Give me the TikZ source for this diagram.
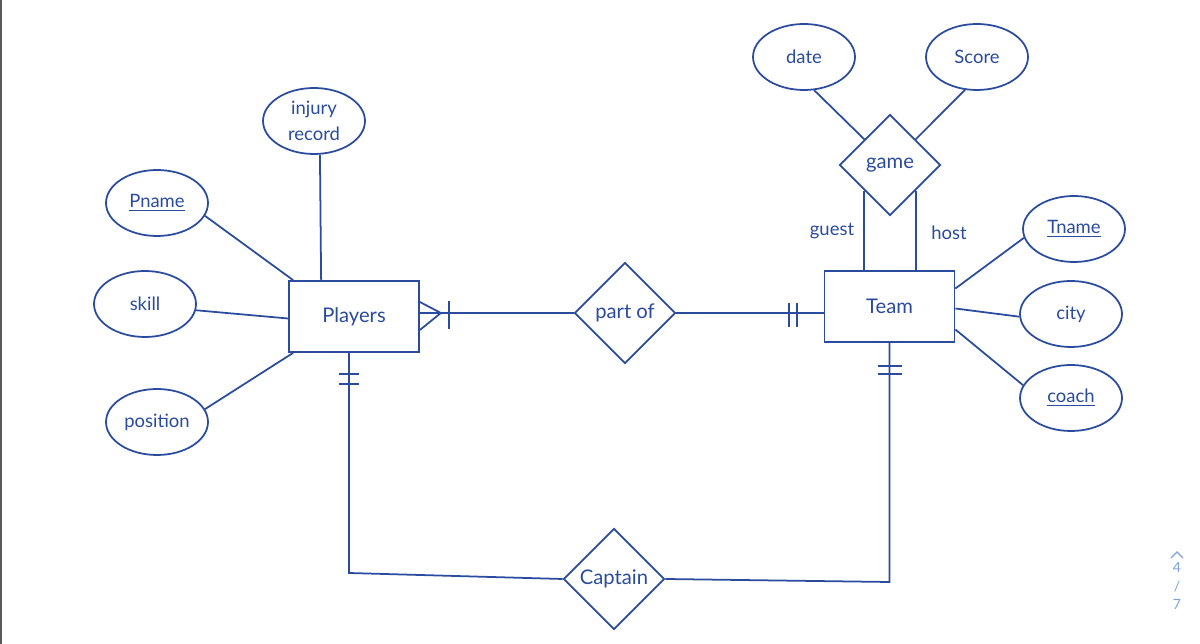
\documentclass[tikz,border=0pt]{standalone}
\usepackage{fontspec}
\setmainfont{Lato}
\usepackage{xcolor}
\usepackage{tikz}
\usetikzlibrary{shapes.geometric, calc}
\definecolor{inkblue}{RGB}{42,75,158}
\definecolor{pageblue}{RGB}{125,165,220}

\begin{document}
\begin{tikzpicture}[x=0.02cm, y=-0.02cm,
  ink/.style={draw=inkblue, line width=1pt},
  attr/.style={ellipse, ink, text=inkblue, minimum width=2.04cm,
               minimum height=1.32cm, inner sep=0pt,
               font=\fontsize{10.5}{15}\selectfont, align=center},
  entity/.style={rectangle, ink, text=inkblue, minimum width=2.6cm,
                 minimum height=1.42cm, inner sep=0pt,
                 font=\fontsize{11.5}{13}\selectfont},
  rel/.style={diamond, ink, text=inkblue, minimum width=2.02cm,
              minimum height=2.02cm, inner sep=0pt,
              font=\fontsize{11.5}{13}\selectfont},
  role/.style={text=inkblue, font=\fontsize{10.5}{12}\selectfont},
  conn/.style={inkblue, line width=1pt}
]
  \useasboundingbox (0,0) rectangle (1200,644);
  \fill[white] (0,0) rectangle (1200,644);

  % page edge and page counter
  \draw[black!65, line width=1.2pt] (1,0) -- (1,644);
  \draw[pageblue, line width=0.7pt] (1171,558) -- (1177,552) -- (1183,558);
  \node[text=pageblue, font=\fontsize{8}{9}\selectfont] (pgnum) at (1177,567) {4};
  \node[text=pageblue, font=\fontsize{8}{9}\selectfont] (pgsep) at (1177,587) {/};
  \node[text=pageblue, font=\fontsize{8}{9}\selectfont] (pgall) at (1177,604) {7};

  % entities
  \node[entity] (players) at (354,316.5) {Players};
  \node[entity] (team) at (889.5,306.5) {Team};

  % relationships
  \node[rel] (partof) at (625,313) {part of};
  \node[rel] (game) at (890,165) {game};
  \node[rel] (captain) at (614,579) {Captain};

  % attributes of Players
  \node[attr] (injury) at (314,121) {injury\\record};
  \node[attr] (pname) at (157,203) {\underline{Pname}};
  \node[attr] (skill) at (145,304) {skill};
  \node[attr] (position) at (157,422) {position};

  % attributes of Team
  \node[attr] (tname) at (1074,229) {\underline{Tname}};
  \node[attr] (city) at (1071,314) {city};
  \node[attr] (coach) at (1071,398) {\underline{coach}};

  % attributes of game
  \node[attr] (date) at (804,57) {date};
  \node[attr] (score) at (977,57) {Score};

  % role names
  \node[role] (guest) at (832,231) {guest};
  \node[role] (host) at (949,233) {host};

  % attribute links
  \draw[conn] (injury.-80) -- ($(players.north west)+(33,0)$);
  \draw[conn] (pname.-15) -- ($(players.north west)+(5,0)$);
  \draw[conn] (skill.-7) -- ($(players.west)+(0,2)$);
  \draw[conn] (position.15) -- ($(players.south west)+(5,0)$);
  \draw[conn] (tname.190) -- ($(team.east)+(0,-18)$);
  \draw[conn] (city.183) -- ($(team.east)+(0,2)$);
  \draw[conn] (coach.165) -- ($(team.east)+(0,23)$);
  \draw[conn] (date.-73) -- (game.north west);
  \draw[conn] (score.-110) -- (game.north east);

  % game: guest and host
  \draw[conn] (game.south west) -- (game.south west |- team.north);
  \draw[conn] (game.south east) -- (game.south east |- team.north);

  % part of: many players, one team
  \coordinate (pfL) at (partof.west -| players.east);
  \coordinate (pfR) at (partof.east -| team.west);
  \draw[conn] (partof.west) -- (pfL);
  \draw[conn] ($(pfL)+(0,-11)$) -- ($(pfL)+(21,0)$) -- ($(pfL)+(0,17)$);
  \draw[conn] ($(pfL)+(29,-12)$) -- ($(pfL)+(29,16)$);
  \draw[conn] (partof.east) -- (pfR);
  \draw[conn] ($(pfR)+(-35,-10)$) -- ($(pfR)+(-35,14)$);
  \draw[conn] ($(pfR)+(-27,-10)$) -- ($(pfR)+(-27,14)$);

  % Captain: one player, one team
  \coordinate (capTop) at ($(players.south)+(-5,0)$);
  \coordinate (capL) at ($(capTop |- captain.west)+(0,-6)$);
  \coordinate (capR) at ($(team.south |- captain.east)+(0,3)$);
  \draw[conn] (capTop) -- (capL) -- (captain.west);
  \draw[conn] (captain.east) -- (capR) -- (team.south);
  \draw[conn] ($(capTop)+(-10,21)$) -- ($(capTop)+(10,21)$);
  \draw[conn] ($(capTop)+(-10,31)$) -- ($(capTop)+(10,31)$);
  \draw[conn] ($(team.south)+(-12,23)$) -- ($(team.south)+(12,23)$);
  \draw[conn] ($(team.south)+(-12,31)$) -- ($(team.south)+(12,31)$);
\end{tikzpicture}
\end{document}
